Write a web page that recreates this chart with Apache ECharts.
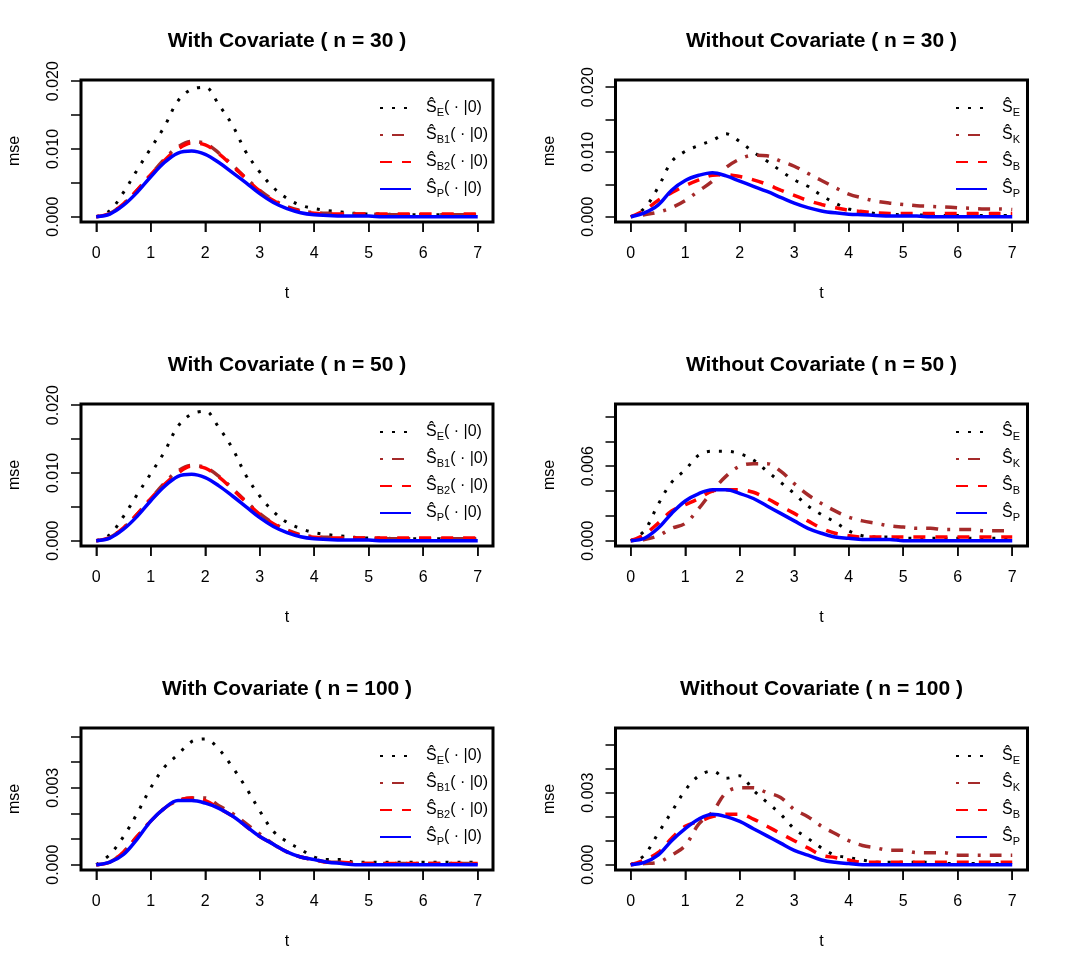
<!DOCTYPE html>
<html>
<head>
<meta charset="utf-8">
<title>mse curves</title>
<script src="https://cdn.jsdelivr.net/npm/echarts@6/dist/echarts.min.js"></script>
<style>
  html, body { margin: 0; padding: 0; background: #fff; }
  #chart { width: 1069px; height: 971px; }
</style>
</head>
<body>
<div id="chart"></div>
<script>
// time grid (t)
var T = [0, 0.25, 0.5, 0.75, 1, 1.25, 1.5, 1.75, 2, 2.25, 2.5, 2.75, 3, 3.25, 3.5,
         3.75, 4, 4.25, 4.5, 4.75, 5, 5.25, 5.5, 5.75, 6, 6.25, 6.5, 6.75, 7];
var xTicks = [0, 1, 2, 3, 4, 5, 6, 7];

// With Covariate ( n = 30 )
var wc30_E  = [0, .0009, .0036, .0069, .0101, .0133, .0171, .0188, .0191, .0165, .0135, .0095, .0066, .0043, .0027, .0017, .0012, .0009, .0007, .0005, .0004, .0004, .0003, .0003, .0003, .0003, .0002, .0002, .0002];
var wc30_B1 = [0, .0005, .0019, .0039, .0062, .0085, .0103, .0111, .0108, .0094, .0076, .0057, .0039, .0025, .0015, .0009, .0006, .0005, .0004, .0004, .0004, .0003, .0003, .0003, .0003, .0003, .0003, .0003, .0003];
var wc30_B2 = [0, .0005, .0019, .0039, .0062, .0083, .0100, .0109, .0106, .0093, .0075, .0056, .0038, .0024, .0014, .0008, .0005, .0004, .0004, .0004, .0004, .0004, .0004, .0004, .0004, .0004, .0004, .0004, .0004];
var wc30_P  = [0, .0004, .0017, .0036, .0059, .0080, .0094, .0097, .0092, .0080, .0065, .0050, .0034, .0021, .0012, .0006, .0003, .0002, .0001, .0001, .0001, 0, 0, 0, 0, 0, 0, 0, 0];

// Without Covariate ( n = 30 )
var wo30_E = [0, .0013, .0045, .0085, .0101, .0110, .0118, .0128, .0116, .0100, .0086, .0071, .0057, .0047, .0033, .0021, .0012, .0008, .0005, .0004, .0003, .0003, .0002, .0002, .0002, .0002, .0002, .0002, .0002];
var wo30_K = [0, .0003, .0007, .0014, .0025, .0040, .0055, .0076, .0089, .0095, .0094, .0086, .0078, .0067, .0056, .0045, .0035, .0029, .0024, .0021, .0019, .0017, .0016, .0015, .0014, .0013, .0012, .0012, .0011];
var wo30_B = [0, .0010, .0025, .0037, .0048, .0057, .0064, .0065, .0062, .0057, .0050, .0041, .0033, .0025, .0019, .0014, .0010, .0008, .0006, .0005, .0005, .0005, .0005, .0005, .0005, .0005, .0005, .0005, .0005];
var wo30_P = [0, .0006, .0018, .0041, .0056, .0064, .0068, .0063, .0055, .0047, .0039, .0030, .0021, .0014, .0009, .0006, .0004, .0003, .0002, .0001, .0001, .0001, 0, 0, 0, 0, 0, 0, 0];

// With Covariate ( n = 50 )
var wc50_E  = [0, .0009, .0036, .0068, .0099, .0131, .0169, .0187, .0191, .0167, .0136, .0096, .0066, .0043, .0027, .0018, .0012, .0009, .0007, .0005, .0004, .0004, .0003, .0003, .0003, .0003, .0002, .0002, .0002];
var wc50_B1 = [0, .0005, .0019, .0039, .0062, .0085, .0103, .0111, .0108, .0095, .0077, .0058, .0040, .0026, .0016, .0009, .0006, .0005, .0004, .0004, .0004, .0003, .0003, .0003, .0003, .0003, .0003, .0003, .0003];
var wc50_B2 = [0, .0005, .0019, .0039, .0062, .0083, .0100, .0110, .0107, .0094, .0076, .0057, .0039, .0025, .0015, .0008, .0005, .0004, .0004, .0004, .0004, .0004, .0004, .0004, .0004, .0004, .0004, .0004, .0004];
var wc50_P  = [0, .0004, .0017, .0036, .0059, .0080, .0095, .0098, .0093, .0081, .0066, .0050, .0034, .0021, .0012, .0006, .0003, .0002, .0001, .0001, .0001, 0, 0, 0, 0, 0, 0, 0, 0];

// Without Covariate ( n = 50 )
var wo50_E = [0, .0008, .0029, .0047, .0057, .0069, .0072, .0072, .0070, .0065, .0056, .0047, .0038, .0028, .0021, .0015, .0008, .0004, .0003, .0003, .0002, .0002, .0002, .0002, .0002, .0002, .0002, .0002, .0002];
var wo50_K = [0, .0001, .0004, .0010, .0014, .0026, .0040, .0052, .0060, .0062, .0062, .0056, .0046, .0037, .0030, .0024, .0019, .0016, .0014, .0012, .0011, .0010, .0010, .0009, .0009, .0009, .0008, .0008, .0008];
var wo50_B = [0, .0005, .0014, .0024, .0029, .0034, .0040, .0041, .0041, .0039, .0034, .0028, .0022, .0016, .0010, .0006, .0004, .0003, .0003, .0003, .0003, .0003, .0003, .0003, .0003, .0003, .0003, .0003, .0003];
var wo50_P = [0, .0002, .0010, .0022, .0032, .0038, .0041, .0041, .0038, .0034, .0028, .0022, .0016, .0010, .0006, .0003, .0002, .0001, .0001, .0001, 0, 0, 0, 0, 0, 0, 0, 0, 0];

// With Covariate ( n = 100 )
var wc100_E  = [0, .0004, .0011, .0020, .0030, .0038, .0043, .0048, .0049, .0045, .0038, .0030, .0021, .0013, .0009, .0006, .0003, .0002, .0002, .0001, .0001, .0001, .0001, .0001, .0001, .0001, .0001, .0001, .0001];
var wc100_B1 = [0, .0001, .0005, .0011, .0017, .0022, .0025, .0026, .0026, .0023, .0020, .0016, .0012, .0008, .0005, .0003, .0002, .0001, .0001, .00005, .00005, .00005, .00005, .00005, .00005, .00005, .00005, .00005, .00005];
var wc100_B2 = [0, .0001, .0005, .0011, .0017, .0022, .0025, .0026, .0025, .0022, .0019, .0015, .0011, .0008, .0005, .0003, .0002, .0001, .0001, .00005, .00005, .00005, .00005, .00005, .00005, .00005, .00005, .00005, .00005];
var wc100_P  = [0, .0001, .0004, .0010, .0017, .0022, .0025, .0025, .0024, .0022, .0019, .0015, .0011, .0008, .0005, .0003, .0002, .0001, .00005, 0, 0, 0, 0, 0, 0, 0, 0, 0, 0];

// Without Covariate ( n = 100 )
var wo100_E = [0, .0004, .0013, .0022, .0031, .0037, .0039, .0036, .0037, .0031, .0026, .0021, .0015, .0011, .0007, .0004, .0003, .0002, .0001, .0001, .0001, .0001, .0001, .00005, .00005, .00005, .00005, .00005, .00005];
var wo100_K = [0, .00005, .0001, .0004, .0008, .0017, .0022, .0030, .0032, .0032, .0030, .0028, .0023, .0020, .0016, .0013, .0010, .0008, .0007, .0006, .0006, .0005, .0005, .0005, .0004, .0004, .0004, .0004, .0004];
var wo100_B = [0, .0002, .0005, .0011, .0016, .0018, .0020, .0021, .0021, .0019, .0016, .0013, .0010, .0007, .0004, .0003, .0002, .0001, .0001, .0001, .0001, .0001, .0001, .0001, .0001, .0001, .0001, .0001, .0001];
var wo100_P = [0, .0001, .0004, .0010, .0015, .0019, .0021, .0020, .0018, .0015, .0012, .0009, .0006, .0004, .0002, .0001, .00005, 0, 0, 0, 0, 0, 0, 0, 0, 0, 0, 0, 0];

// y axis ticks / labels
var yTicks020 = [0, 0.005, 0.010, 0.015, 0.020];
var yLabels020 = [0, 0.010, 0.020];
var yTicks010 = [0, 0.002, 0.004, 0.006, 0.008, 0.010];
var yLabels010 = [0, 0.006];
var yTicks005 = [0, 0.001, 0.002, 0.003, 0.004, 0.005];
var yLabels005 = [0, 0.003];

var FONT = '"Liberation Sans", Arial, Helvetica, sans-serif';

var panels = [
  { title: 'With Covariate ( n = 30 )',     col: 0, row: 0, ylim: 0.0194, yTicks: yTicks020, yLabels: yLabels020, cov: true,  data: [wc30_E, wc30_B1, wc30_B2, wc30_P] },
  { title: 'Without Covariate ( n = 30 )',  col: 1, row: 0, ylim: 0.0203, yTicks: yTicks020, yLabels: yLabels020, cov: false, data: [wo30_E, wo30_K, wo30_B, wo30_P] },
  { title: 'With Covariate ( n = 50 )',     col: 0, row: 1, ylim: 0.0194, yTicks: yTicks020, yLabels: yLabels020, cov: true,  data: [wc50_E, wc50_B1, wc50_B2, wc50_P] },
  { title: 'Without Covariate ( n = 50 )',  col: 1, row: 1, ylim: 0.01058, yTicks: yTicks010, yLabels: yLabels010, cov: false, data: [wo50_E, wo50_K, wo50_B, wo50_P] },
  { title: 'With Covariate ( n = 100 )',    col: 0, row: 2, ylim: 0.005125, yTicks: yTicks005, yLabels: yLabels005, cov: true,  data: [wc100_E, wc100_B1, wc100_B2, wc100_P] },
  { title: 'Without Covariate ( n = 100 )', col: 1, row: 2, ylim: 0.00547, yTicks: yTicks005, yLabels: yLabels005, cov: false, data: [wo100_E, wo100_K, wo100_B, wo100_P] }
];

var covSubs = ['E', 'B1', 'B2', 'P'];
var noCovSubs = ['E', 'K', 'B', 'P'];

var lineStyles = [
  { color: '#000000', width: 3,   type: [3, 9],        cap: 'butt' },
  { color: '#A52A2A', width: 3.5, type: [3, 9, 12, 9], cap: 'butt' },
  { color: '#FF0000', width: 3.5, type: [12, 10],      cap: 'butt' },
  { color: '#0000FF', width: 3.5, type: 'solid',       cap: 'butt' }
];

var COL_LEFT = [81, 615.5];
var ROW_TOP = [80, 404, 728];
var BOX_W = 412, BOX_H = 142;
var TICK_LEN = 10;
var X_PAD = 0.28;                       // 4% range extension on each side of [0, 7]
var X_PX = BOX_W / (7 + 2 * X_PAD);     // pixels per unit of t

var grids = [], xAxes = [], yAxes = [], series = [], titles = [], legends = [];
var labelOf = {};
var n = panels.length;

panels.forEach(function (p, i) {
  var left = COL_LEFT[p.col], top = ROW_TOP[p.row];
  // plot box (holds the data)
  grids[i] = {
    left: left, top: top, width: BOX_W, height: BOX_H,
    show: true, borderColor: '#000', borderWidth: 3, backgroundColor: 'transparent',
    outerBoundsMode: 'none'
  };
  // thin strip under the box spanning t = 0..7, carries the x ticks and labels
  grids[n + i] = {
    left: left + X_PAD * X_PX, top: top + BOX_H, width: 7 * X_PX, height: TICK_LEN,
    show: false, outerBoundsMode: 'none'
  };
  titles.push({
    text: p.title, left: left + BOX_W / 2, top: top - 49, textAlign: 'center', padding: 0,
    textStyle: { fontSize: 21, fontWeight: 'bold', color: '#000', fontFamily: FONT, lineHeight: 21 }
  });
  xAxes[i] = {
    gridIndex: i, type: 'value', min: -X_PAD, max: 7 + X_PAD, show: false
  };
  xAxes[n + i] = {
    gridIndex: n + i, type: 'value', min: 0, max: 7, interval: 1,
    axisLine: { show: false, onZero: false },
    splitLine: { show: true, lineStyle: { color: '#000', width: 1.5 } },
    axisTick: { show: false },
    axisLabel: { margin: 14, fontSize: 16, color: '#000', fontFamily: FONT, showMinLabel: true, showMaxLabel: true },
    name: 't', nameLocation: 'middle', nameGap: 54,
    nameTextStyle: { fontSize: 16, color: '#000', fontFamily: FONT }
  };
  yAxes[i] = {
    gridIndex: i, type: 'value', min: -0.04 * p.ylim, max: 1.04 * p.ylim,
    axisLine: { show: false, onZero: false },
    splitLine: { show: false },
    axisTick: { show: true, inside: false, length: TICK_LEN, customValues: p.yTicks, lineStyle: { color: '#000', width: 1.5 } },
    axisLabel: {
      customValues: p.yLabels, rotate: 90, margin: 19, fontSize: 16, color: '#000', fontFamily: FONT,
      formatter: function (v) { return v.toFixed(3); }
    },
    name: 'mse', nameLocation: 'middle', nameRotate: 90, nameGap: 58,
    nameTextStyle: { fontSize: 16, color: '#000', fontFamily: FONT }
  };
  yAxes[n + i] = { gridIndex: n + i, type: 'value', min: 0, max: 1, show: false };

  // x tick marks: thin bars placed at the tick values in the strip
  series.push({
    type: 'scatter', xAxisIndex: n + i, yAxisIndex: n + i, silent: true,
    data: xTicks.map(function (t) { return [t, 0.5]; }),
    symbol: 'rect', symbolSize: [1.5, TICK_LEN],
    itemStyle: { color: '#000' }, z: 10
  });

  var subs = p.cov ? covSubs : noCovSubs;
  var names = [];
  p.data.forEach(function (vals, k) {
    var name = 'p' + i + '_' + subs[k];
    names.push(name);
    labelOf[name] = '{s|Ŝ}{b|' + subs[k] + '}' + (p.cov ? '{r|( · |0)}' : '');
    series.push({
      name: name, type: 'line', xAxisIndex: i, yAxisIndex: i,
      data: T.map(function (t, j) { return [t, vals[j]]; }),
      showSymbol: false, symbol: 'none', smooth: 0.35,
      lineStyle: lineStyles[k], z: 2 + k, silent: true
    });
  });

  legends.push({
    data: names, orient: 'vertical', selectedMode: false,
    left: p.cov ? left + 298 : left + 339.5, top: top + 18, padding: 0,
    itemWidth: 31, itemHeight: 14, itemGap: 7,
    itemStyle: { color: 'transparent', borderWidth: 0, opacity: 0 },
    formatter: function (nm) { return labelOf[nm]; },
    textStyle: {
      color: '#000', fontFamily: FONT, fontSize: 16, lineHeight: 20,
      rich: {
        s: { fontSize: 16, lineHeight: 20, padding: [0, 0, 0, 10], fontFamily: FONT, color: '#000' },
        b: { fontSize: 11, lineHeight: 13, verticalAlign: 'bottom', fontFamily: FONT, color: '#000' },
        r: { fontSize: 16, lineHeight: 20, fontFamily: FONT, color: '#000' }
      }
    }
  });
});

var chart = echarts.init(document.getElementById('chart'), null, { renderer: 'canvas' });
chart.setOption({
  backgroundColor: '#fff',
  animation: false,
  title: titles,
  legend: legends,
  grid: grids,
  xAxis: xAxes,
  yAxis: yAxes,
  series: series
});
</script>
</body>
</html>
